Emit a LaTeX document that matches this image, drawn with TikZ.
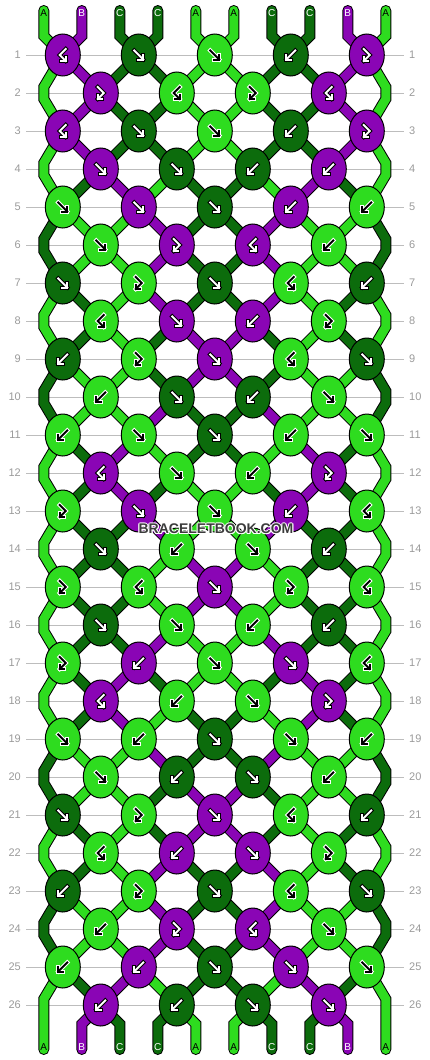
\documentclass[tikz,border=0pt]{standalone}
\usepackage{fontspec}
\setmainfont{Liberation Sans}
\usetikzlibrary{shapes.geometric}
\pgfdeclarelayer{grid}
\pgfdeclarelayer{rims}
\pgfdeclarelayer{knots}
\pgfsetlayers{grid,rims,main,knots}

\definecolor{strA}{HTML}{2EDC1F}
\definecolor{strB}{HTML}{8A05B5}
\definecolor{strC}{HTML}{0C6C0C}
\definecolor{gridgray}{HTML}{BDBDBD}
\definecolor{numgray}{HTML}{9A9A9A}
\definecolor{wmark}{HTML}{3C3C3C}

%knot symbols
\tikzset{
  pics/arr f/.style={code={%
    \path[pic actions] (-4.5,-4.5) -- (4.5,4.5);
    \path[pic actions] (-0.5,4.5) -- (4.5,4.5) -- (4.5,-0.5);}},
  pics/arr b/.style={code={%
    \path[pic actions] (4.5,-4.5) -- (-4.5,4.5);
    \path[pic actions] (0.5,4.5) -- (-4.5,4.5) -- (-4.5,-0.5);}},
  pics/arr r/.style={code={%
    \path[pic actions] (-3,-6) -- (3,0) -- (-3,6);
    \path[pic actions] (-3,1.5) -- (-3,6) -- (1.5,6);}},
  pics/arr l/.style={code={%
    \path[pic actions] (3,-6) -- (-3,0) -- (3,6);
    \path[pic actions] (3,1.5) -- (3,6) -- (-1.5,6);}}
}

\begin{document}
\begin{tikzpicture}[x=1pt,y=-1pt,
    strand rim/.style={line width=11pt,draw=black,line cap=round,line join=miter},
    strand/.style={line width=9pt,line cap=round,line join=miter},
    knot/.style={ellipse,draw=black,line width=1pt,minimum width=35pt,minimum height=42pt,inner sep=0pt},
    arrow rim A/.style={draw=white,line width=4pt,line cap=rect,line join=miter},
    arrow rim B/.style={draw=black,line width=4pt,line cap=rect,line join=miter},
    arrow rim C/.style={arrow rim B},
    arrow core A/.style={draw=black,line width=2pt,line cap=rect,line join=miter},
    arrow core B/.style={draw=white,line width=2pt,line cap=rect,line join=miter},
    arrow core C/.style={arrow core B},
    endlabel/.style={font=\fontsize{10}{10}\selectfont,inner sep=0pt},
    lab A/.style={text=black},
    lab B/.style={text=white},
    lab C/.style={text=white},
    rowline/.style={draw=gridgray,line width=1pt},
    rownum/.style={text=numgray,font=\fontsize{11}{11}\selectfont,inner sep=0pt},
    watermark/.style={font=\bfseries\fontsize{14}{14}\selectfont,inner sep=0pt,text=wmark}
    ]
    \useasboundingbox (0,0) rectangle (430,1060);

    %Faeden oben
    \foreach \ltr [count=\si] in {A,B,C,C,A,A,C,C,B,A} {
        \pgfmathsetmacro\sx{5.8+38*\si}
        \coordinate (t-\si) at (\sx,10.5);
        \coordinate (s-\si) at (\sx,36);
        \begin{pgfonlayer}{knots}
            \node[endlabel,lab \ltr] (lt-\si) at (\sx,13) {\ltr};
        \end{pgfonlayer}
        \expandafter\xdef\csname sc\si\endcsname{\ltr}
        \expandafter\xdef\csname sp\si\endcsname{(t-\si) -- (s-\si)}
    }

    %Knotenreihen
    \foreach \types [count=\rw] in {%
        {l,f,f,b,r},{r,l,r,l},{l,f,f,b,r},{f,f,b,b},{f,f,f,b,b},%
        {f,r,l,b},{f,r,f,l,b},{l,f,b,r},{b,r,f,l,f},{b,f,b,f},%
        {b,f,f,b,f},{l,f,b,r},{r,f,f,b,l},{f,b,f,b},{r,l,f,r,l},%
        {f,f,b,b},{r,b,f,f,l},{l,b,f,r},{f,b,f,f,b},{f,b,f,b},%
        {f,r,f,l,b},{l,b,f,r},{b,r,f,l,f},{b,r,l,f},{b,b,f,f,f},%
        {b,b,f,f}} {
        \pgfmathsetmacro\ky{17+38*\rw}
        \pgfmathtruncatemacro\isodd{mod(\rw,2)}
        \coordinate (gl-\rw) at (26,\ky);
        \coordinate (gr-\rw) at (404,\ky);
        \begin{pgfonlayer}{grid}
            \draw[rowline] (gl-\rw) -- (gr-\rw);
        \end{pgfonlayer}
        \node[rownum,anchor=east] (nl-\rw) at (21,\ky) {\rw};
        \node[rownum,anchor=west] (nr-\rw) at (409,\ky) {\rw};
        \foreach \kt [count=\kn] in \types {
            \ifnum\isodd=1 \pgfmathtruncatemacro\pa{2*\kn-1}\else\pgfmathtruncatemacro\pa{2*\kn}\fi
            \pgfmathtruncatemacro\pb{\pa+1}
            \pgfmathsetmacro\kx{24.8+38*\pa}
            \coordinate (p-\rw-\kn) at (\kx,\ky);
            \edef\ca{\csname sc\pa\endcsname}
            \edef\cb{\csname sc\pb\endcsname}
            \edef\ia{\csname sp\pa\endcsname}
            \edef\ib{\csname sp\pb\endcsname}
            \if\kt b\let\kc\cb\else\if\kt l\let\kc\cb\else\let\kc\ca\fi\fi
            \edef\tmp{%
                \noexpand\begin{pgfonlayer}{rims}
                \noexpand\draw[strand rim] \ia -- (p-\rw-\kn) \ib -- (p-\rw-\kn);
                \noexpand\end{pgfonlayer}
                \noexpand\draw[strand,draw=str\ca] \ia -- (p-\rw-\kn);
                \noexpand\draw[strand,draw=str\cb] \ib -- (p-\rw-\kn);}
            \tmp
            \edef\kfill{str\kc}
            \begin{pgfonlayer}{knots}
                \node[knot,fill=\kfill] (k-\rw-\kn) at (p-\rw-\kn) {};
                \pic[arrow rim \kc] at (p-\rw-\kn) {arr \kt};
                \pic[arrow core \kc] at (p-\rw-\kn) {arr \kt};
            \end{pgfonlayer}
            \if\kt f\expandafter\xdef\csname sc\pa\endcsname{\cb}\expandafter\xdef\csname sc\pb\endcsname{\ca}\fi
            \if\kt b\expandafter\xdef\csname sc\pa\endcsname{\cb}\expandafter\xdef\csname sc\pb\endcsname{\ca}\fi
            \expandafter\xdef\csname sp\pa\endcsname{(p-\rw-\kn)}
            \expandafter\xdef\csname sp\pb\endcsname{(p-\rw-\kn)}
        }
        %Randfaeden
        \ifnum\isodd=0
            \coordinate (ea-\rw) at (43.8,\ky-6);
            \coordinate (eb-\rw) at (43.8,\ky+6);
            \coordinate (fa-\rw) at (385.8,\ky-6);
            \coordinate (fb-\rw) at (385.8,\ky+6);
            \expandafter\xdef\csname sp1\endcsname{\csname sp1\endcsname -- (ea-\rw) -- (eb-\rw)}
            \expandafter\xdef\csname sp10\endcsname{\csname sp10\endcsname -- (fa-\rw) -- (fb-\rw)}
        \fi
    }

    %Faeden unten
    \foreach \si in {1,...,10} {
        \pgfmathsetmacro\sx{5.8+38*\si}
        \coordinate (b-\si) at (\sx,1024);
        \coordinate (u-\si) at (\sx,1049.5);
        \edef\ltr{\csname sc\si\endcsname}
        \edef\tmp{%
            \noexpand\begin{pgfonlayer}{rims}
            \noexpand\draw[strand rim] \csname sp\si\endcsname -- (b-\si) -- (u-\si);
            \noexpand\end{pgfonlayer}
            \noexpand\draw[strand,draw=str\ltr] \csname sp\si\endcsname -- (b-\si) -- (u-\si);}
        \tmp
        \begin{pgfonlayer}{knots}
            \node[endlabel,lab \ltr] (lb-\si) at (\sx,1047) {\ltr};
        \end{pgfonlayer}
    }

    %Wasserzeichen
    \begin{pgfonlayer}{knots}
        \foreach \dx/\dy [count=\h] in {-1/0,1/0,0/-1,0/1,-0.8/-0.8,0.8/0.8,-0.8/0.8,0.8/-0.8}
            \node[watermark,text=white] (halo-\h) at (216+\dx,529+\dy) {BRACELETBOOK.COM};
        \node[watermark] (wm) at (216,529) {BRACELETBOOK.COM};
    \end{pgfonlayer}
\end{tikzpicture}
\end{document}
